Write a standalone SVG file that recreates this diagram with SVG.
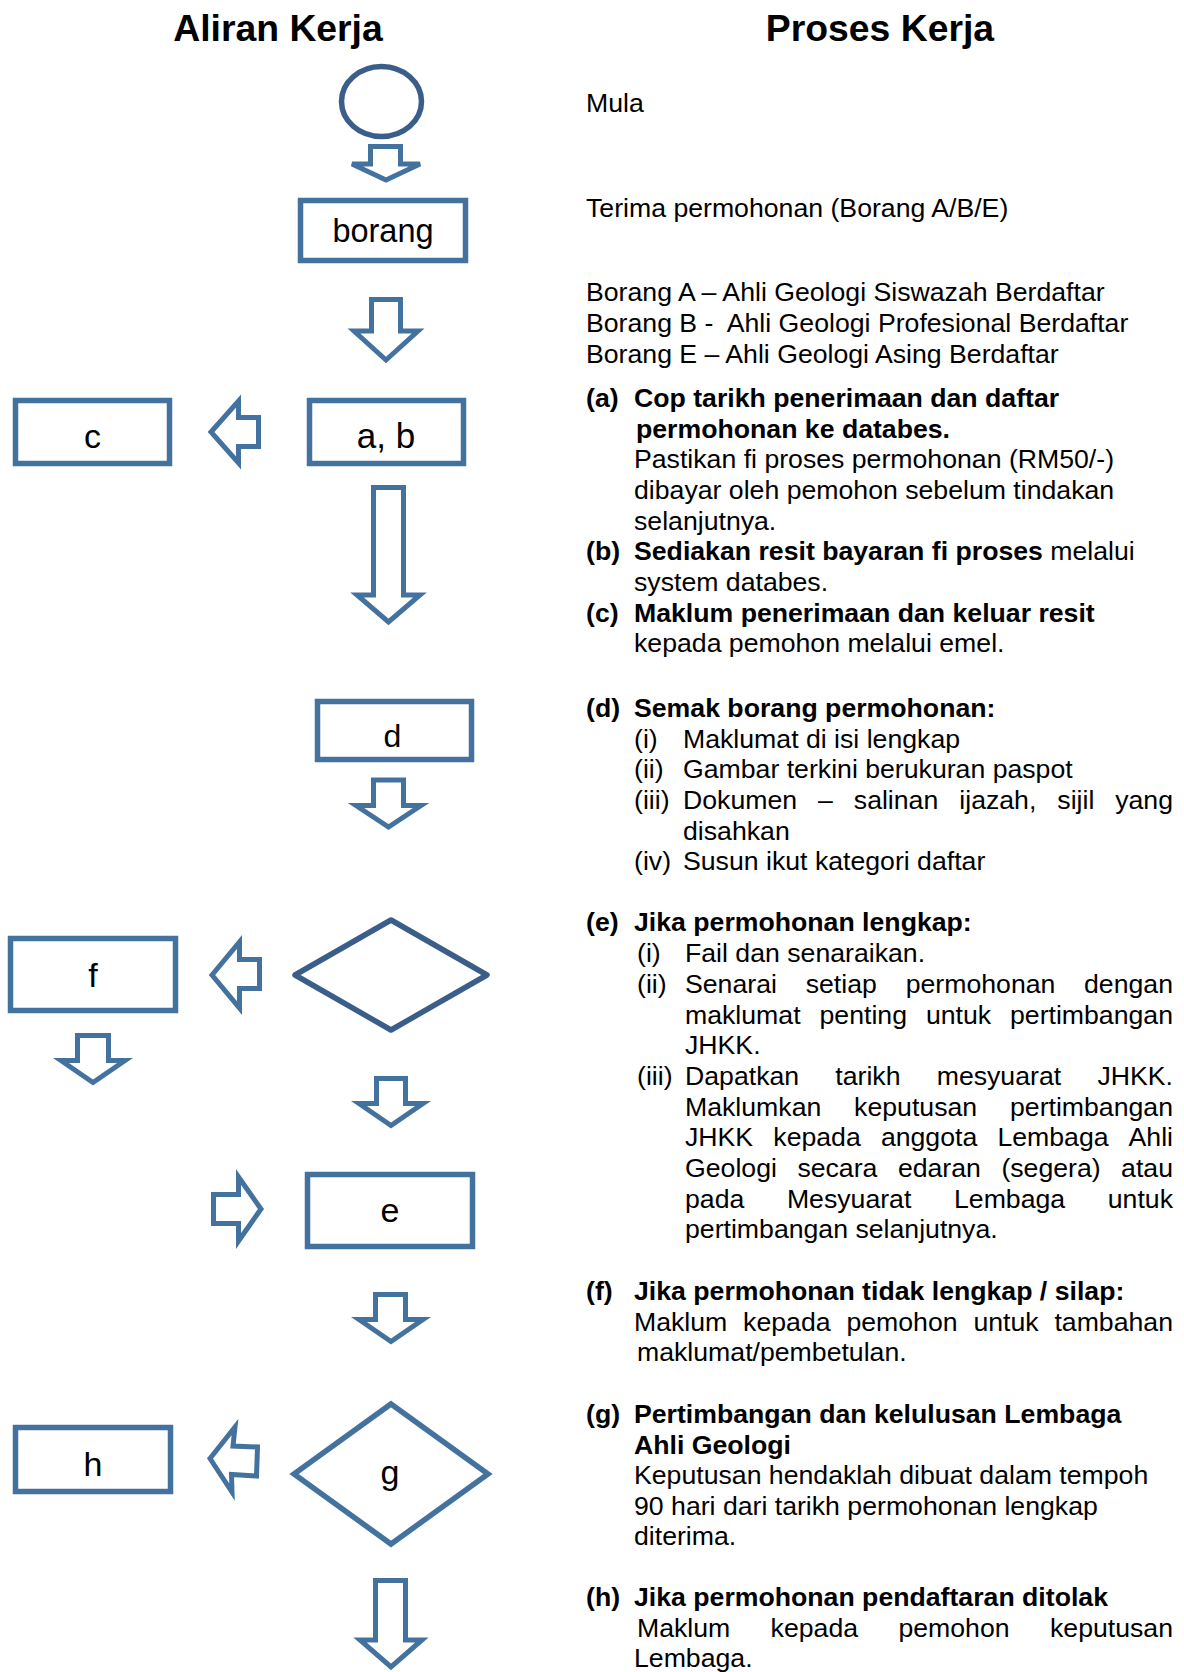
<svg xmlns="http://www.w3.org/2000/svg" width="1184" height="1672" viewBox="0 0 1184 1672">
<style>
.box{fill:#fff;stroke:#44729f;stroke-width:5.5}
.dk{stroke:#3a5d8a}
.arr{fill:#fff;stroke:#44729f;stroke-width:5;stroke-linejoin:miter}
.lbl{font-family:"Liberation Sans",Arial,sans-serif;font-size:34px;text-anchor:middle;fill:#000}
.t{font-family:"Liberation Sans",Arial,sans-serif;font-size:26.67px;fill:#000}
.b{font-weight:bold}
.title{font-family:"Liberation Sans",Arial,sans-serif;font-size:37.33px;font-weight:bold;text-anchor:middle;fill:#000}
.e{text-anchor:end}
</style>
<rect width="1184" height="1672" fill="#fff"/>
<g id="titles">
<text class="title" x="278" y="41">Aliran Kerja</text>
<text class="title" x="880" y="41">Proses Kerja</text>
</g>
<g id="connectors">
<polygon class="arr dk" points="370.5,146.5 400.5,146.5 400.5,164 420,164 386,180 352,164 370.5,164"/>
<polygon class="arr" points="371.5,299.5 400.5,299.5 400.5,331 418,331 386,360 354,331 371.5,331"/>
<polygon class="arr" points="211,432 238.5,401 238.5,417.5 258.5,417.5 258.5,446.5 238.5,446.5 238.5,463"/>
<polygon class="arr" points="373.5,487.5 403.5,487.5 403.5,595 420,595 388.5,622 357,595 373.5,595"/>
<polygon class="arr" points="373.5,780 403.5,780 403.5,805.5 421,805.5 388.5,827 356,805.5 373.5,805.5"/>
<polygon class="arr" points="212,975 239.5,942 239.5,959.5 259.5,959.5 259.5,988.5 239.5,988.5 239.5,1008"/>
<polygon class="arr" points="77.5,1035.5 108.5,1035.5 108.5,1060.5 125,1060.5 93,1082.5 61,1060.5 77.5,1060.5"/>
<polygon class="arr" points="376.5,1078.5 405.5,1078.5 405.5,1103.5 423,1103.5 391,1125.5 359,1103.5 376.5,1103.5"/>
<polygon class="arr" points="213.5,1194.5 238.5,1194.5 238.5,1177 261,1209 238.5,1241 238.5,1223.5 213.5,1223.5"/>
<polygon class="arr" points="375.5,1294.5 405.5,1294.5 405.5,1319.5 423,1319.5 391,1341.5 359,1319.5 375.5,1319.5"/>
<polygon class="arr" points="210,1458.5 235,1427 233,1446 257.5,1447 256.5,1476 231.5,1474.5 232,1492"/>
<polygon class="arr" points="375.5,1580.5 405.5,1580.5 405.5,1640 422,1640 391,1667 360,1640 375.5,1640"/>
</g>
<g id="node-start"><ellipse class="box dk" cx="381.5" cy="101.5" rx="40" ry="35"/></g>
<g id="node-borang"><rect class="box" x="300.5" y="200.5" width="165" height="60"/><text class="lbl" x="383" y="242" style="font-size:32.5px">borang</text></g>
<g id="node-ab"><rect class="box" x="309.5" y="400.5" width="154" height="63"/><text class="lbl" x="386" y="448" style="font-size:35px">a, b</text></g>
<g id="node-c"><rect class="box" x="15.5" y="400.5" width="154" height="63"/><text class="lbl" x="92.5" y="447.5">c</text></g>
<g id="node-d"><rect class="box" x="317.5" y="701.5" width="154" height="58"/><text class="lbl" x="392.5" y="746.5" style="font-size:32px">d</text></g>
<g id="node-decision"><polygon class="box dk" stroke-linejoin="round" points="391,920 487,975 391,1030 295,975"/></g>
<g id="node-f"><rect class="box" x="10.5" y="938.5" width="165" height="72"/><text class="lbl" x="93" y="987">f</text></g>
<g id="node-e"><rect class="box" x="307.5" y="1174.5" width="165" height="72"/><text class="lbl" x="390" y="1222">e</text></g>
<g id="node-g"><polygon class="box" points="391,1404 488,1474 391,1544 294,1474"/><text class="lbl" x="390" y="1484">g</text></g>
<g id="node-h"><rect class="box" x="15.5" y="1427.5" width="155" height="64"/><text class="lbl" x="93" y="1476">h</text></g>

<g id="text-mula"><text class="t" x="586" y="112">Mula</text></g>
<g id="text-terima"><text class="t" x="586" y="217">Terima permohonan (Borang A/B/E)</text></g>
<g id="text-borang">
<text class="t" x="586" y="301">Borang A – Ahli Geologi Siswazah Berdaftar</text>
<text class="t" x="586" y="332" xml:space="preserve">Borang B -  Ahli Geologi Profesional Berdaftar</text>
<text class="t" x="586" y="363">Borang E – Ahli Geologi Asing Berdaftar</text>
</g>
<g id="text-a">
<text class="t b" x="586" y="407">(a)</text>
<text class="t b" x="634" y="407">Cop tarikh penerimaan dan daftar</text>
<text class="t b" x="636" y="437.7">permohonan ke databes.</text>
<text class="t" x="634" y="468.3">Pastikan fi proses permohonan (RM50/-)</text>
<text class="t" x="634" y="499">dibayar oleh pemohon sebelum tindakan</text>
<text class="t" x="634" y="529.7">selanjutnya.</text>
</g>
<g id="text-b">
<text class="t b" x="586" y="560.3">(b)</text>
<text class="t" x="634" y="560.3"><tspan class="b">Sediakan resit bayaran fi proses</tspan> melalui</text>
<text class="t" x="634" y="591">system databes.</text>
</g>
<g id="text-c">
<text class="t b" x="586" y="621.7">(c)</text>
<text class="t b" x="634" y="621.7">Maklum penerimaan dan keluar resit</text>
<text class="t" x="634" y="652.3">kepada pemohon melalui emel.</text>
</g>
<g id="text-d">
<text class="t b" x="586" y="717">(d)</text>
<text class="t b" x="634" y="717">Semak borang permohonan:</text>
<text class="t" x="634" y="747.7">(i)</text><text class="t" x="683" y="747.7">Maklumat di isi lengkap</text>
<text class="t" x="634" y="778.3">(ii)</text><text class="t" x="683" y="778.3">Gambar terkini berukuran paspot</text>
<text class="t" x="634" y="809">(iii)</text>
<text class="t" x="683" y="809">Dokumen</text><text class="t" x="818.1" y="809">–</text><text class="t" x="853.8" y="809">salinan</text><text class="t" x="959.3" y="809">ijazah,</text><text class="t" x="1057.3" y="809">sijil</text><text class="t e" x="1173" y="809">yang</text>
<text class="t" x="683" y="839.7">disahkan</text>
<text class="t" x="634" y="870.3">(iv)</text><text class="t" x="683" y="870.3">Susun ikut kategori daftar</text>
</g>
<g id="text-e">
<text class="t b" x="586" y="931">(e)</text>
<text class="t b" x="634" y="931">Jika permohonan lengkap:</text>
<text class="t" x="637" y="962">(i)</text><text class="t" x="685" y="962">Fail dan senaraikan.</text>
<text class="t" x="637" y="993">(ii)</text>
<text class="t" x="685" y="993">Senarai</text><text class="t" x="805.7" y="993">setiap</text><text class="t" x="905.7" y="993">permohonan</text><text class="t e" x="1173" y="993">dengan</text>
<text class="t" x="685" y="1023.5">maklumat</text><text class="t" x="819.5" y="1023.5">penting</text><text class="t" x="925.9" y="1023.5">untuk</text><text class="t e" x="1173" y="1023.5">pertimbangan</text>
<text class="t" x="685" y="1054">JHKK.</text>
<text class="t" x="637" y="1085">(iii)</text>
<text class="t" x="685" y="1085">Dapatkan</text><text class="t" x="835.3" y="1085">tarikh</text><text class="t" x="936.7" y="1085">mesyuarat</text><text class="t e" x="1173" y="1085">JHKK.</text>
<text class="t" x="685" y="1115.5">Maklumkan</text><text class="t" x="854.1" y="1115.5">keputusan</text><text class="t e" x="1173" y="1115.5">pertimbangan</text>
<text class="t" x="685" y="1146">JHKK</text><text class="t" x="773.3" y="1146">kepada</text><text class="t" x="880.9" y="1146">anggota</text><text class="t" x="997.4" y="1146">Lembaga</text><text class="t e" x="1173" y="1146">Ahli</text>
<text class="t" x="685" y="1177">Geologi</text><text class="t" x="797.4" y="1177">secara</text><text class="t" x="897.9" y="1177">edaran</text><text class="t" x="1001.4" y="1177">(segera)</text><text class="t e" x="1173" y="1177">atau</text>
<text class="t" x="685" y="1207.5">pada</text><text class="t" x="786.9" y="1207.5">Mesyuarat</text><text class="t" x="954" y="1207.5">Lembaga</text><text class="t e" x="1173" y="1207.5">untuk</text>
<text class="t" x="685" y="1238">pertimbangan selanjutnya.</text>
</g>
<g id="text-f">
<text class="t b" x="586" y="1300">(f)</text>
<text class="t b" x="634" y="1300">Jika permohonan tidak lengkap / silap:</text>
<text class="t" x="634" y="1331">Maklum</text><text class="t" x="743.1" y="1331">kepada</text><text class="t" x="846.4" y="1331">pemohon</text><text class="t" x="973.4" y="1331">untuk</text><text class="t e" x="1173" y="1331">tambahan</text>
<text class="t" x="637" y="1361">maklumat/pembetulan.</text>
</g>
<g id="text-g">
<text class="t b" x="586" y="1423">(g)</text>
<text class="t b" x="634" y="1423">Pertimbangan dan kelulusan Lembaga</text>
<text class="t b" x="634" y="1453.5">Ahli Geologi</text>
<text class="t" x="634" y="1484">Keputusan hendaklah dibuat dalam tempoh</text>
<text class="t" x="634" y="1514.5">90 hari dari tarikh permohonan lengkap</text>
<text class="t" x="634" y="1545">diterima.</text>
</g>
<g id="text-h">
<text class="t b" x="586" y="1606">(h)</text>
<text class="t b" x="634" y="1606">Jika permohonan pendaftaran ditolak</text>
<text class="t" x="637" y="1637">Maklum</text><text class="t" x="770.6" y="1637">kepada</text><text class="t" x="898.4" y="1637">pemohon</text><text class="t e" x="1173" y="1637">keputusan</text>
<text class="t" x="634" y="1667">Lembaga.</text>
</g>
</svg>
